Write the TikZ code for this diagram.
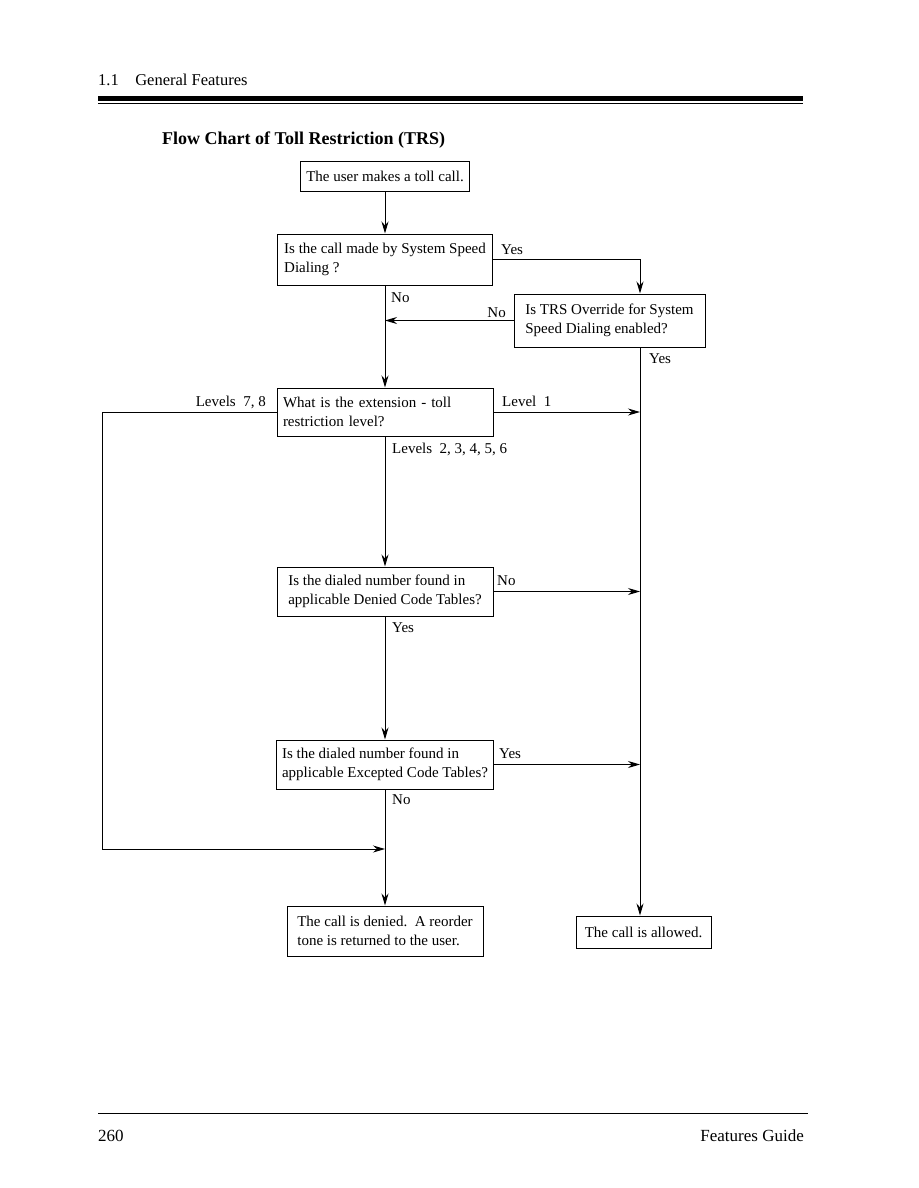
\documentclass[tikz,border=0pt]{standalone}
\usepackage{fontspec}
\setmainfont{Liberation Serif}
\usetikzlibrary{arrows.meta,positioning,calc}
\tikzset{
  chartbox/.style={draw, line width=1pt, align=left, inner xsep=6pt, inner ysep=2pt,
    font=\fontsize{15}{19}\selectfont},
  lbl/.style={inner sep=0pt, anchor=base west, font=\fontsize{15}{19}\selectfont},
  arr/.style={-{Stealth[length=12pt,width=7pt]}, line width=1pt},
  flow/.style={line width=1pt}
}
\begin{document}
\begin{tikzpicture}[x=1pt,y=-1pt]
  \useasboundingbox (0,0) rectangle (918,1188);
  % page header and footer
  \node[lbl, font=\fontsize{16.5}{20}\selectfont] (sec) at (98,86) {1.1\quad General Features};
  \fill (98,96) rectangle (803,101);
  \draw[line width=1pt] (98,103.5) -- (803,103.5);
  \node[lbl, font=\bfseries\fontsize{18}{22}\selectfont] (title) at (162,145) {Flow Chart of Toll Restriction (TRS)};
  \draw[line width=1pt] (98,1113) -- (808,1113);
  \node[lbl, font=\fontsize{17}{20}\selectfont] (page) at (98,1141) {260};
  \node[lbl, anchor=base east, font=\fontsize{17}{20}\selectfont] (book) at (804,1141) {Features Guide};

  % boxes
  \node[chartbox, minimum width=169, minimum height=30] (start) at (385,176) {The user makes a toll call.};
  \node[chartbox, minimum width=215, minimum height=51] (speed) at (385,259.5) {Is the call made by System Speed\\Dialing ?};
  \node[chartbox, minimum width=191, minimum height=53] (override) at (609.5,320.5) {Is TRS Override for System\\Speed Dialing enabled?};
  \node[chartbox, text width=204, minimum height=48] (level) at (385,412) {What is the extension - toll\\restriction level?};
  \node[chartbox, minimum width=216, minimum height=49] (denied) at (385,591.5) {Is the dialed number found in\\applicable Denied Code Tables?};
  \node[chartbox, minimum width=216, minimum height=49] (excepted) at (385,764.5) {Is the dialed number found in\\applicable Excepted Code Tables?};
  \node[chartbox, minimum width=196, minimum height=50] (reject) at (385,931) {The call is denied.\ \ A reorder\\tone is returned to the user.};
  \node[chartbox, minimum width=135, minimum height=32] (allow) at (643.5,932) {The call is allowed.};

  \coordinate (rline) at (640,0);
  \coordinate (lline) at (102,849);
  \coordinate (join) at (385,849);

  % connectors
  \draw[arr] (start) -- (speed);
  \draw[arr] (speed.east) -| (override.north -| rline);
  \draw[arr] (speed) -- (level);
  \draw[arr] (override.west) -- (override.west -| speed.south);
  \draw[arr] (override.south -| rline) -- (allow.north -| rline);
  \draw[arr] (level.east) -- (level.east -| rline);
  \draw[arr] (level.west) -| (lline) -- (join);
  \draw[arr] (level) -- (denied);
  \draw[arr] (denied.east) -- (denied.east -| rline);
  \draw[arr] (denied) -- (excepted);
  \draw[arr] (excepted.east) -- (excepted.east -| rline);
  \draw[arr] (excepted) -- (reject);

  % branch labels
  \node[lbl] (yes1) at (501,254) {Yes};
  \node[lbl] (no1) at (391,302) {No};
  \node[lbl, anchor=base east] (no2) at (506,317) {No};
  \node[lbl] (yes2) at (649,363) {Yes};
  \node[lbl, anchor=base east] (lv78) at (266,406) {Levels\enspace 7, 8};
  \node[lbl] (lv1) at (502,406) {Level\enspace 1};
  \node[lbl] (lv26) at (392,453) {Levels\enspace 2, 3, 4, 5, 6};
  \node[lbl] (no3) at (497,585) {No};
  \node[lbl] (yes3) at (392,632) {Yes};
  \node[lbl] (yes4) at (499,758) {Yes};
  \node[lbl] (no4) at (392,804) {No};
\end{tikzpicture}
\end{document}
